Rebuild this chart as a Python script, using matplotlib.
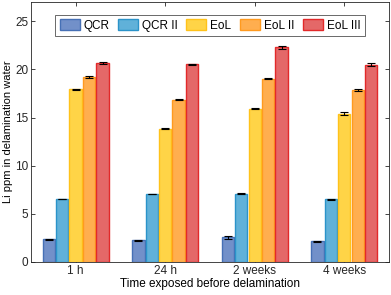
import numpy as np
import matplotlib
matplotlib.use('Agg')
from matplotlib import pyplot as plt

plt.rcParams['font.family'] = ['Liberation Sans', 'DejaVu Sans']

groups = ['1 h', '24 h', '2 weeks', '4 weeks']
series = ['QCR', 'QCR II', 'EoL', 'EoL II', 'EoL III']
qcr = [2.35, 2.25, 2.55, 2.15]
qcr2 = [6.55, 7.05, 7.1, 6.5]
eol = [17.95, 13.85, 15.9, 15.4]
eol2 = [19.2, 16.85, 19.05, 17.9]
eol3 = [20.65, 20.55, 22.3, 20.5]
qcr_err = [0.04, 0.04, 0.15, 0.03]
qcr2_err = [0.03, 0.03, 0.04, 0.06]
eol_err = [0.04, 0.08, 0.05, 0.15]
eol2_err = [0.1, 0.04, 0.05, 0.1]
eol3_err = [0.08, 0.04, 0.15, 0.15]

values = [qcr, qcr2, eol, eol2, eol3]
errors = [qcr_err, qcr2_err, eol_err, eol2_err, eol3_err]
faces = ['#7290c9', '#60b1d9', '#ffd447', '#ffae4f', '#e46868']
edges = ['#4670b5', '#2b93c9', '#ffc21a', '#ff9a1f', '#e2292a']

fig = plt.figure(figsize=(3.91, 2.95), dpi=100)
ax = fig.add_axes([0.079, 0.112, 0.916, 0.881])

x = np.arange(1, len(groups) + 1)
w = 0.15
for i, (v, e) in enumerate(zip(values, errors)):
    pos = x + (i - 2) * w
    ax.bar(pos, v, width=w * 0.92, color=faces[i], edgecolor=edges[i],
           linewidth=1.0, label=series[i], zorder=2)
    ax.errorbar(pos, v, yerr=e, fmt='none', ecolor='black', elinewidth=0.8,
                capsize=3, capthick=0.8, zorder=3)

ax.set_xlim(0.5, 4.5)
ax.set_ylim(0, 27)
ax.set_xticks(x)
ax.set_xticklabels(groups)
ax.set_yticks([0, 5, 10, 15, 20, 25])
ax.tick_params(direction='in', top=True, right=True, labelsize=8.5,
               length=3, width=0.6, colors='#262626', pad=2)
for s in ax.spines.values():
    s.set_color('#262626')
    s.set_linewidth(0.6)
ax.set_xlabel('Time exposed before delamination', fontsize=8.5, labelpad=1)
ax.set_ylabel('Li ppm in delamination water', fontsize=8, labelpad=1)

leg = ax.legend(ncol=5, loc='upper center', bbox_to_anchor=(0.5, 0.96),
                fontsize=8.5, frameon=True, fancybox=False, handlelength=1.7,
                handleheight=1.1, handletextpad=0.35, columnspacing=0.7,
                borderpad=0.35, borderaxespad=0.2)
leg.get_frame().set_edgecolor('#262626')
leg.get_frame().set_linewidth(0.6)

fig.savefig('out.png', dpi=100)
